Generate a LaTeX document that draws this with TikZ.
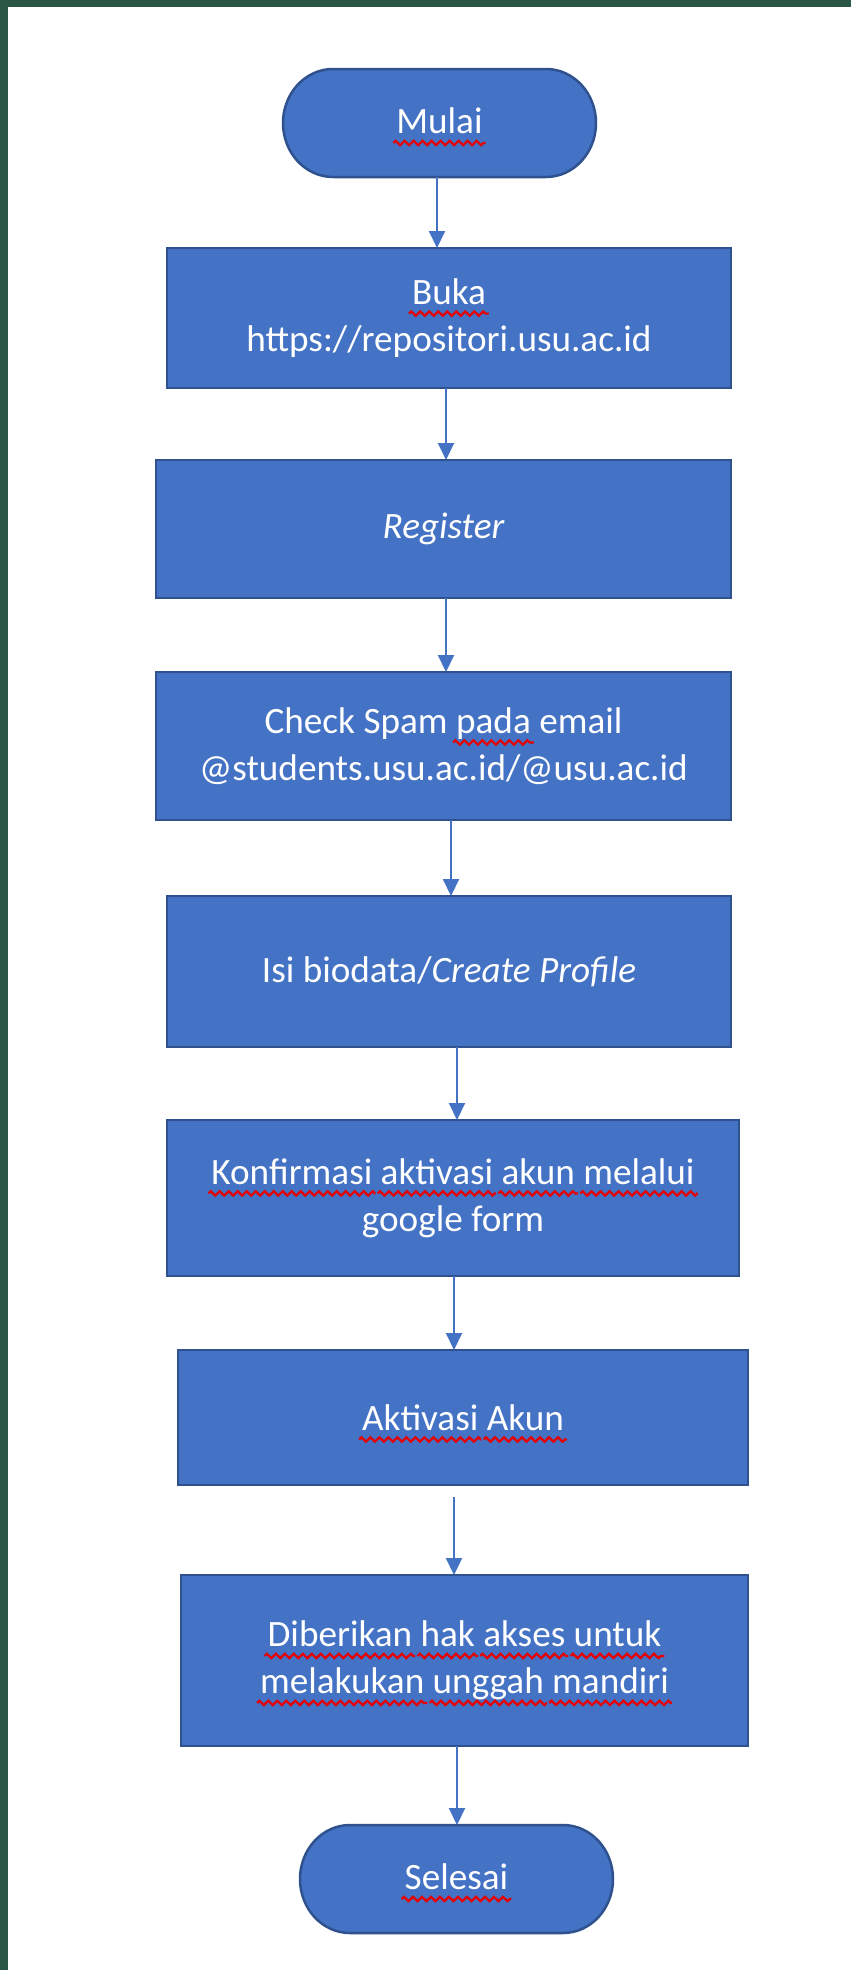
\documentclass[tikz,border=0pt]{standalone}
\usepackage{fontspec}
\setmainfont{Carlito}
\usetikzlibrary{arrows.meta,decorations.pathmorphing}
\definecolor{offblue}{RGB}{68,114,196}
\definecolor{offedge}{RGB}{47,82,143}
\definecolor{frame}{RGB}{42,87,69}
\definecolor{spellred}{RGB}{232,0,0}
\tikzset{
  spell/.style={overlay,draw=spellred,line width=1.1pt,decorate,decoration={zigzag,segment length=4.5pt,amplitude=1.1pt}},
  wordnode/.style={rectangle,draw=none,fill=none,inner sep=0pt,outer sep=0pt,minimum width=0pt,minimum height=0pt,text=white},
  stepbox/.style={rectangle,draw=offedge,fill=offblue,line width=1.25pt,text=white,align=center,inner sep=2pt,outer sep=0pt},
  termnode/.style={rectangle,draw=none,text=white,align=center,inner sep=2pt,outer sep=0pt,minimum width=156.5pt,minimum height=54pt},
  termline/.style={draw=offedge,fill=offblue,line width=1.25pt},
  arr/.style={draw=offblue,line width=1pt,-{Triangle[width=8pt,length=8.5pt]}},
}
\newcommand\sq[1]{\tikz[baseline=(w.base)]{\node[wordnode](w){#1};\draw[spell] ([xshift=-1.5pt,yshift=-4.6pt]w.base west) -- ([xshift=1.5pt,yshift=-4.6pt]w.base east);}}
\newcommand\termshape[1]{%
  \path[termline] ([xshift=25pt]#1.north west) -- ([xshift=-25pt]#1.north east)
    arc[start angle=90,end angle=-90,x radius=25pt,y radius=27pt]
    -- ([xshift=25pt]#1.south west)
    arc[start angle=270,end angle=90,x radius=25pt,y radius=27pt] -- cycle;}
\begin{document}
\begin{tikzpicture}[x=0.5pt,y=-0.5pt,font=\fontsize{18.6pt}{23.5pt}\selectfont]
\useasboundingbox (0,0) rectangle (851,1970);
\fill[white] (0,0) rectangle (851,1970);
\fill[frame] (0,0) rectangle (851,7);
\fill[frame] (0,0) rectangle (8,1970);

% terminators (shape drawn first, text node on top)
\path (439.5,123) node[termnode] (mulaiB) {};
\termshape{mulaiB}
\node[termnode] (mulai) at (439.5,121) {\sq{Mulai}};

\path (456.5,1879) node[termnode] (selesaiB) {};
\termshape{selesaiB}
\node[termnode] (selesai) at (456.5,1877) {\sq{Selesai}};

% process boxes
\node[stepbox,minimum width=282pt,minimum height=70pt] (buka) at (449,318)
  {\sq{Buka}\\https://repositori.usu.ac.id};
\node[stepbox,minimum width=287.5pt,minimum height=69pt] (register) at (443.5,529)
  {\itshape Register};
\node[stepbox,minimum width=287.5pt,minimum height=74pt] (check) at (443.5,746)
  {Check Spam \sq{pada} email\\@students.usu.ac.id/@usu.ac.id};
\node[stepbox,minimum width=282pt,minimum height=75.5pt] (isi) at (449,971.5)
  {Isi biodata/\textit{Create Profile}};
\node[stepbox,minimum width=286pt,minimum height=78pt] (konf) at (453,1198)
  {\sq{Konfirmasi} \sq{aktivasi} \sq{akun} \sq{melalui}\\google form};
\node[stepbox,minimum width=285pt,minimum height=67.5pt] (aktiv) at (463,1417.5)
  {\sq{Aktivasi} \sq{Akun}};
\node[stepbox,minimum width=283.5pt,minimum height=85.5pt] (diberi) at (464.5,1660.5)
  {\sq{Diberikan} \sq{hak} \sq{akses} \sq{untuk}\\\sq{melakukan} \sq{unggah} \sq{mandiri}};

% connector columns
\coordinate (c1) at (437,0);
\coordinate (c2) at (446,0);
\coordinate (c3) at (446,0);
\coordinate (c4) at (451,0);
\coordinate (c5) at (457,0);
\coordinate (c6) at (454,0);
\coordinate (c7) at (454,0);
\coordinate (c8) at (457,0);

\draw[arr] (mulaiB.south -| c1) -- (buka.north -| c1);
\draw[arr] (buka.south -| c2) -- (register.north -| c2);
\draw[arr] (register.south -| c3) -- (check.north -| c3);
\draw[arr] (check.south -| c4) -- (isi.north -| c4);
\draw[arr] (isi.south -| c5) -- (konf.north -| c5);
\draw[arr] (konf.south -| c6) -- (aktiv.north -| c6);
\draw[arr,shorten <=6pt] (aktiv.south -| c7) -- (diberi.north -| c7);
\draw[arr] (diberi.south -| c8) -- (selesaiB.north -| c8);
\end{tikzpicture}
\end{document}
